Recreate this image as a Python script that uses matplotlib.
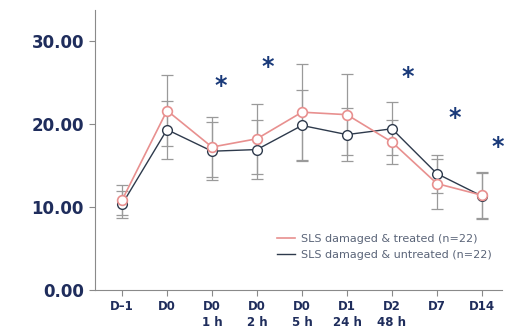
import numpy as np
import matplotlib
matplotlib.use("Agg")
from matplotlib import pyplot as plt

# data
labels = ["D\u20131", "D0", "D0\n1 h", "D0\n2 h", "D0\n5 h", "D1\n24 h", "D2\n48 h", "D7", "D14"]
treated = [10.8, 21.6, 17.2, 18.2, 21.4, 21.1, 17.8, 12.8, 11.4]
treated_err = [1.8, 4.3, 3.6, 4.2, 5.8, 4.9, 2.6, 3.0, 2.8]
untreated = [10.3, 19.3, 16.7, 16.9, 19.8, 18.7, 19.4, 14.0, 11.3]
untreated_err = [1.6, 3.5, 3.5, 3.5, 4.3, 3.2, 3.2, 2.3, 2.8]
star_x = [2.2, 3.25, 6.35, 7.4, 8.35]
star_y = [24.5, 26.8, 25.6, 20.7, 17.2]
yticks = [0, 10, 20, 30]

navy = "#1f2d5c"
pink = "#e8908f"
dark = "#2e3a4c"
grey = "#8a8a8a"

fig = plt.figure(figsize=(5.28, 3.34), dpi=100)
ax = fig.add_axes([0.18, 0.132, 0.771, 0.838])

x = np.arange(len(labels))

ax.errorbar(x, treated, yerr=treated_err, fmt="none", ecolor="#9a9a9a",
            elinewidth=0.9, capsize=4, capthick=0.9, zorder=2)
ax.errorbar(x, untreated, yerr=untreated_err, fmt="none", ecolor="#9a9a9a",
            elinewidth=0.9, capsize=4, capthick=0.9, zorder=2)
ax.plot(x, treated, color=pink, lw=1.2, marker="o", ms=7, mfc="white",
        mec=pink, mew=1.2, zorder=4, label="SLS damaged & treated (n=22)")
ax.plot(x, untreated, color=dark, lw=1.0, marker="o", ms=7, mfc="white",
        mec=dark, mew=1.0, zorder=3, label="SLS damaged & untreated (n=22)")

for sx, sy in zip(star_x, star_y):
    ax.text(sx, sy, "*", color="#1a3a7a", fontsize=17, fontweight="bold",
            ha="center", va="center")

ax.set_xlim(-0.6, 8.45)
ax.set_ylim(0, 33.7)
ax.set_yticks(yticks)
ax.set_yticklabels(["%.2f" % v for v in yticks], fontsize=12,
                   fontweight="bold", color=navy)
ax.set_xticks(x)
ax.set_xticklabels(labels, fontsize=8.5, fontweight="bold", color=navy,
                   linespacing=1.3, va="top")

for s in ["top", "right"]:
    ax.spines[s].set_visible(False)
for s in ["left", "bottom"]:
    ax.spines[s].set_color(grey)
ax.tick_params(axis="both", colors=grey, length=4)
ax.tick_params(axis="y", labelcolor=navy, pad=4)
ax.tick_params(axis="x", labelcolor=navy, pad=3)

leg = ax.legend(loc="lower right", bbox_to_anchor=(1.0, 0.07), frameon=False,
                fontsize=8, handlelength=1.6, handletextpad=0.6,
                labelspacing=0.6, labelcolor="#5a6478")
for h in leg.legend_handles:
    h.set_marker("")

fig.savefig("out.png", dpi=100)
